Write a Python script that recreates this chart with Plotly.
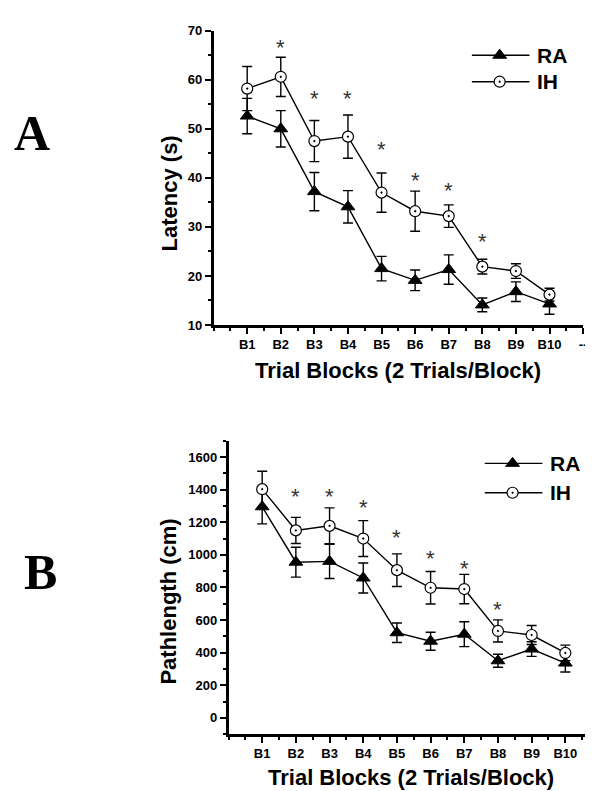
import plotly.graph_objects as go

W, H = 593, 791

# ---------------- data ----------------
blocks = [1, 2, 3, 4, 5, 6, 7, 8, 9, 10]
block_labels = ["B1", "B2", "B3", "B4", "B5", "B6", "B7", "B8", "B9", "B10"]

lat_ra = [52.6, 50.0, 37.2, 34.1, 21.5, 19.1, 21.3, 14.1, 16.8, 14.3]
lat_ra_err = [3.6, 3.7, 3.9, 3.3, 2.5, 2.1, 3.0, 1.4, 2.0, 2.1]
lat_ih = [58.2, 60.6, 47.5, 48.4, 37.0, 33.2, 32.2, 21.9, 21.0, 16.2]
lat_ih_err = [4.5, 4.0, 4.2, 4.4, 4.0, 4.1, 2.3, 1.5, 1.5, 1.3]
lat_star_blocks = [2, 3, 4, 5, 6, 7, 8]
lat_star_y = [67.5, 57.2, 57.2, 46.7, 40.5, 38.5, 28.0]

path_ra = [1295, 955, 960, 858, 522, 470, 513, 350, 422, 336]
path_ra_err = [105, 92, 105, 92, 60, 55, 76, 40, 45, 55]
path_ih = [1403, 1150, 1178, 1100, 906, 798, 790, 533, 508, 398]
path_ih_err = [110, 80, 110, 110, 100, 100, 90, 68, 58, 48]
path_star_blocks = [2, 3, 4, 5, 6, 7, 8]
path_star_y = [1387, 1387, 1323, 1139, 1006, 946, 696]

series_names = ["RA", "IH"]

# ---------------- styles ----------------
FONT = "Liberation Sans, Arial, sans-serif"
SERIF = "Liberation Serif, Times New Roman, serif"
ra_marker = dict(symbol="triangle-up", size=12, color="black", line=dict(color="black", width=1))
ih_marker = dict(symbol="circle-dot", size=11, color="white", line=dict(color="black", width=1.2))
line_style = dict(color="black", width=1.4)


def px_x(p):
    return p / W


def px_y(p):
    return 1 - p / H


fig = go.Figure()


def add_panel(xa, ya, ra, ra_e, ih, ih_e):
    for vals, errs, mk, nm in [(ra, ra_e, ra_marker, "RA"), (ih, ih_e, ih_marker, "IH")]:
        fig.add_trace(go.Scatter(
            x=blocks, y=vals, mode="lines+markers", name=nm,
            line=line_style, marker=mk, showlegend=False,
            error_y=dict(type="data", array=errs, visible=True, color="black",
                         thickness=1.4, width=5),
            xaxis=xa, yaxis=ya,
        ))


add_panel("x", "y", lat_ra, lat_ra_err, lat_ih, lat_ih_err)
add_panel("x2", "y2", path_ra, path_ra_err, path_ih, path_ih_err)

# asterisks
annotations = []
for xs, ys, xr, yr in [(lat_star_blocks, lat_star_y, "x", "y"),
                       (path_star_blocks, path_star_y, "x2", "y2")]:
    for bx, by in zip(xs, ys):
        annotations.append(dict(x=bx, y=by, xref=xr, yref=yr, text="*",
                                showarrow=False, yshift=-5,
                                xanchor="center", yanchor="middle",
                                font=dict(family=FONT, size=22, color="#333")))

# ---------------- legends (overlay axes in pixel units) ----------------
legend_A = dict(x0=467, x1=525, xm=495, xt=531, ys=[41, 68])
legend_B = dict(x0=480, x1=538, xm=508, xt=544, ys=[457, 487])
for lg in (legend_A, legend_B):
    for nm, mk, yy in zip(series_names, [ra_marker, ih_marker], lg["ys"]):
        fig.add_trace(go.Scatter(x=[lg["x0"], lg["x1"]], y=[yy, yy], mode="lines",
                                 line=dict(color="black", width=1.4), showlegend=False,
                                 hoverinfo="skip", xaxis="x3", yaxis="y3"))
        fig.add_trace(go.Scatter(x=[lg["xm"]], y=[yy], mode="markers", marker=mk,
                                 showlegend=False, hoverinfo="skip", xaxis="x3", yaxis="y3"))
        annotations.append(dict(x=px_x(lg["xt"]), y=px_y(yy), xref="paper", yref="paper",
                                text=nm, showarrow=False, xanchor="left", yanchor="middle",
                                font=dict(family=FONT, size=21, color="black", weight="bold")))

# ---------------- titles ----------------
title_font = dict(family=FONT, size=22, color="black", weight="bold")
C = dict(xanchor="center", yanchor="middle", showarrow=False, xref="paper", yref="paper")
annotations += [
    dict(x=px_x(163), y=px_y(182), text="Latency (s)", textangle=-90, font=title_font, **C),
    dict(x=px_x(162), y=px_y(598), text="Pathlength (cm)", textangle=-90, font=title_font, **C),
    dict(x=px_x(393), y=px_y(362), text="Trial Blocks (2 Trials/Block)", font=title_font, **C),
    dict(x=px_x(406), y=px_y(777), text="Trial Blocks (2 Trials/Block)", font=title_font, **C),
    dict(x=px_x(24), y=px_y(120), text="A",
         font=dict(family=SERIF, size=50, color="black", weight="bold"), **C),
    dict(x=px_x(33), y=px_y(568), text="B",
         font=dict(family=SERIF, size=50, color="black", weight="bold"), **C),
]

tick_font = dict(family=FONT, size=13, color="black", weight="bold")
axis_common = dict(showline=True, linecolor="black", linewidth=2.5, ticks="outside",
                   tickcolor="black", tickwidth=2, ticklen=6, showgrid=False,
                   zeroline=False, tickfont=tick_font)
minor_common = dict(ticks="outside", ticklen=3, tickwidth=2, tickcolor="black")

fig.update_layout(
    width=W, height=H, margin=dict(l=0, r=0, t=0, b=0),
    paper_bgcolor="white", plot_bgcolor="rgba(0,0,0,0)",
    showlegend=False,
    xaxis=dict(domain=[px_x(207), px_x(579)], range=[0, 11], anchor="y",
               tickmode="array", tickvals=blocks + [11], ticktext=block_labels + ["--"],
               minor=dict(dtick=0.5, tick0=0, **minor_common),
               **axis_common),
    yaxis=dict(domain=[px_y(316), px_y(16)], range=[10, 70], anchor="x",
               tickmode="linear", tick0=10, dtick=10,
               minor=dict(dtick=5, tick0=10, **minor_common),
               **axis_common),
    xaxis2=dict(domain=[px_x(222), 1.0], range=[0, 10.94], anchor="y2",
                tickmode="array", tickvals=blocks, ticktext=block_labels,
                minor=dict(dtick=0.5, tick0=0, **minor_common),
                **axis_common),
    yaxis2=dict(domain=[px_y(733), px_y(434)], range=[-100, 1700], anchor="x2",
                tickmode="linear", tick0=0, dtick=200,
                minor=dict(dtick=100, tick0=0, **minor_common),
                **axis_common),
    xaxis3=dict(domain=[0, 1], range=[0, W], visible=False, anchor="y3", fixedrange=True),
    yaxis3=dict(domain=[0, 1], range=[H, 0], visible=False, anchor="x3", fixedrange=True),
    annotations=annotations,
)

fig.write_html("out.html")
